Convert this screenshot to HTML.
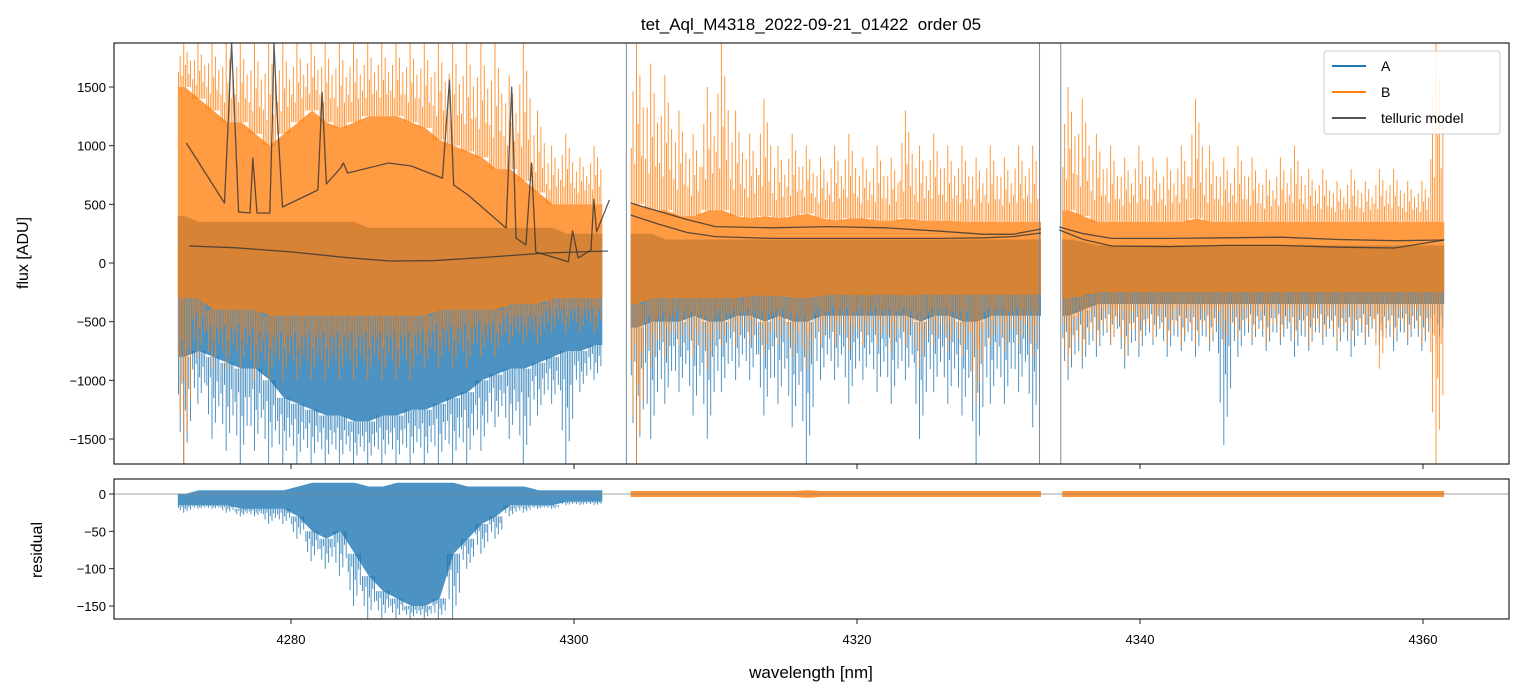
<!DOCTYPE html>
<html><head><meta charset="utf-8"><style>
body{margin:0;background:#fff;}
svg{display:block;font-family:"Liberation Sans","DejaVu Sans",sans-serif;}
</style></head><body>
<svg id="chart" width="1523" height="696" viewBox="0 0 1523 696" xmlns="http://www.w3.org/2000/svg">
<defs>
<clipPath id="ctop"><rect x="114" y="43" width="1395" height="421"/></clipPath>
<clipPath id="cbot"><rect x="114" y="479" width="1395" height="140"/></clipPath>
</defs>
<text x="811" y="30" font-size="17" text-anchor="middle" style="white-space:pre">tet_Aql_M4318_2022-09-21_01422  order 05</text>
<g id="topPanel" clip-path="url(#ctop)"></g>
<g id="botPanel" clip-path="url(#cbot)"></g>
<g id="axesG"></g>
<text transform="translate(28,253) rotate(-90)" font-size="16" text-anchor="middle">flux [ADU]</text>
<text transform="translate(42,550) rotate(-90)" font-size="16" text-anchor="middle">residual</text>
<text x="811" y="678" font-size="17" text-anchor="middle">wavelength [nm]</text>
<g id="legendG">
<rect x="1324" y="51" width="176" height="83" rx="3" fill="#fff" fill-opacity="0.85" stroke="#ccc"/>
<line x1="1332" y1="66" x2="1366" y2="66" stroke="#1f77b4" stroke-width="2"/>
<text x="1381" y="71" font-size="14">A</text>
<line x1="1332" y1="92" x2="1366" y2="92" stroke="#ff7f0e" stroke-width="2"/>
<text x="1381" y="97" font-size="14">B</text>
<line x1="1332" y1="118" x2="1366" y2="118" stroke="#555" stroke-width="2"/>
<text x="1381" y="123" font-size="14">telluric model</text>
</g>
</svg>
<script>
// ---- data ----
const seg1 = [4272.5,4273.5,4274.5,4275.5,4276.5,4277.5,4278.5,4279.5,4280.5,4281.5,4282.5,4283.5,4284.5,4285.5,4286.5,4287.5,4288.5,4289.5,4290.5,4291.5,4292.5,4293.5,4294.5,4295.5,4296.5,4297.5,4298.5,4299.5,4300.5,4301.5];
const seg2 = [4304.5,4305.5,4306.5,4307.5,4308.5,4309.5,4310.5,4311.5,4312.5,4313.5,4314.5,4315.5,4316.5,4317.5,4318.5,4319.5,4320.5,4321.5,4322.5,4323.5,4324.5,4325.5,4326.5,4327.5,4328.5,4329.5,4330.5,4331.5,4332.5];
const seg3 = [4335,4336,4337,4338,4339,4340,4341,4342,4343,4344,4345,4346,4347,4348,4349,4350,4351,4352,4353,4354,4355,4356,4357,4358,4359,4360,4361];
const bHi1 = [1500,1400,1300,1200,1200,1100,1000,1100,1200,1300,1200,1150,1200,1250,1250,1250,1200,1150,1050,1000,950,900,800,800,700,600,500,500,500,500];
const bLo1 = [-300,-300,-400,-400,-400,-400,-450,-450,-450,-450,-450,-450,-450,-450,-450,-450,-450,-450,-400,-400,-400,-400,-400,-350,-350,-350,-300,-300,-300,-300];
const bSHi1 = [1875,1875,1875,1875,1875,1875,1875,1875,1875,1875,1875,1875,1875,1875,1875,1875,1875,1875,1875,1875,1875,1875,1875,1600,1875,1300,1000,1100,900,1000];
const bSLo1 = [-1713,-800,-900,-900,-900,-1000,-1000,-1000,-1000,-1000,-1000,-1000,-1000,-1000,-1000,-1000,-1000,-900,-900,-900,-900,-800,-800,-700,-700,-700,-600,-600,-600,-600];
const aHi1 = [400,350,350,350,350,350,350,350,350,350,350,350,350,300,300,300,300,300,300,300,300,300,300,300,300,300,300,250,250,250];
const aLo1 = [-800,-750,-800,-850,-900,-900,-1000,-1150,-1200,-1250,-1300,-1300,-1350,-1350,-1300,-1300,-1250,-1250,-1200,-1150,-1100,-1000,-950,-900,-900,-850,-800,-750,-750,-700];
const aSLo1 = [-1713,-1200,-1500,-1600,-1713,-1600,-1713,-1713,-1713,-1713,-1713,-1713,-1713,-1713,-1713,-1713,-1713,-1713,-1713,-1713,-1713,-1600,-1400,-1500,-1713,-1300,-1200,-1713,-1100,-1000];
const bHi2 = [500,450,450,400,400,450,450,400,380,400,380,400,420,380,360,380,380,360,360,380,360,360,360,350,350,350,350,350,350];
const bLo2 = [-350,-300,-300,-300,-300,-300,-300,-300,-280,-280,-280,-300,-300,-280,-270,-270,-280,-270,-270,-280,-270,-270,-270,-270,-270,-270,-270,-270,-270];
const bSHi2 = [1875,1700,1600,1300,1100,1500,1875,1300,1100,1400,1000,1100,1000,900,1000,1100,900,1000,900,1300,1000,1100,1000,1000,900,1000,900,1000,1000];
const bSLo2 = [-1713,-900,-800,-700,-800,-900,-700,-700,-700,-800,-700,-800,-900,-700,-700,-750,-700,-700,-750,-700,-900,-700,-750,-800,-1200,-700,-750,-700,-800];
const aHi2 = [250,250,200,200,200,200,200,200,200,200,200,200,200,200,200,200,200,200,200,200,200,200,200,200,200,200,200,200,200];
const aLo2 = [-550,-500,-500,-500,-450,-500,-500,-450,-450,-500,-450,-500,-500,-450,-450,-450,-450,-450,-450,-450,-500,-450,-450,-500,-500,-450,-450,-450,-450];
const aSLo2 = [-1713,-1500,-1200,-1100,-1300,-1500,-1100,-1000,-1000,-1300,-1200,-1400,-1713,-1000,-1000,-1200,-1000,-1100,-1200,-1000,-1500,-1100,-1200,-1300,-1713,-1200,-1200,-1100,-1400];
const bHi3 = [450,400,350,350,350,350,350,350,350,380,350,350,350,350,350,350,350,350,350,350,350,350,350,350,350,350,350];
const bLo3 = [-300,-280,-250,-250,-250,-250,-250,-250,-250,-250,-250,-250,-250,-250,-250,-250,-250,-250,-250,-250,-250,-250,-250,-250,-250,-250,-250];
const bSHi3 = [1500,1400,1100,1000,900,1000,900,900,1000,1400,1000,900,1000,900,800,900,1000,800,800,700,800,700,800,800,700,700,1875];
const bSLo3 = [-900,-800,-700,-700,-800,-700,-650,-700,-700,-700,-700,-700,-650,-650,-700,-650,-650,-700,-650,-700,-650,-650,-900,-650,-650,-700,-1713];
const aHi3 = [200,180,150,150,150,150,150,150,150,150,150,150,150,150,150,150,150,150,150,150,150,150,150,150,150,150,150];
const aLo3 = [-450,-400,-350,-350,-350,-350,-350,-350,-350,-350,-350,-350,-350,-350,-350,-350,-350,-350,-350,-350,-350,-350,-350,-350,-350,-350,-350];
const aSLo3 = [-1000,-900,-800,-700,-900,-800,-700,-800,-750,-800,-750,-1550,-800,-700,-750,-700,-800,-750,-700,-750,-800,-700,-700,-750,-700,-750,-700];
const tel1W = [4272.6,4275.3,4275.6,4275.8,4276.0,4276.3,4277.1,4277.3,4277.6,4278.5,4278.7,4278.8,4279.0,4279.4,4281.9,4282.2,4282.5,4283.5,4283.7,4284.0,4286.9,4288.5,4290.7,4291.2,4291.5,4292.5,4295.2,4295.6,4295.9,4296.6,4297.0,4297.3,4298.5,4299.6,4299.9,4300.3,4301.2,4301.4,4301.6,4302.5];
const tel1V = [1023,511,1300,1875,1300,435,426,895,426,426,1300,1875,1300,477,622,1457,673,810,852,767,852,827,724,1560,665,580,298,1500,213,153,852,94,51,9,273,43,111,545,264,537];
const tel1bW = [4272.8,4276,4280,4284,4287,4290,4294,4298,4302.4];
const tel1bV = [145,130,95,45,17,20,50,85,102];
const tel2W = [4304,4306,4308,4310,4314,4318,4322,4326,4329,4331,4333];
const tel2V = [511,440,370,310,300,310,300,270,245,245,290];
const tel2bW = [4304,4306,4308,4310,4314,4318,4322,4326,4329,4331,4333];
const tel2bV = [409,330,260,225,210,210,210,210,215,225,256];
const tel3W = [4334.3,4336,4338,4342,4346,4350,4354,4358,4361.5];
const tel3V = [307,250,210,210,215,220,200,190,196];
const tel3bW = [4334.3,4336,4338,4342,4346,4350,4354,4358,4361.5];
const tel3bV = [281,200,145,140,150,150,135,128,196];
const resHi1 = [0,5,5,5,5,5,5,5,10,15,15,15,15,10,10,15,15,15,15,15,10,10,10,10,10,5,5,5,5,5];
const resLo1 = [-15,-15,-15,-15,-20,-20,-20,-20,-30,-50,-60,-50,-80,-110,-130,-140,-150,-150,-140,-80,-60,-40,-30,-15,-15,-15,-15,-10,-10,-10];
const resSLo1 = [-25,-20,-20,-25,-30,-30,-40,-40,-60,-90,-100,-110,-150,-167,-167,-167,-167,-167,-167,-167,-100,-80,-60,-30,-25,-20,-20,-15,-15,-15];
const resHi2 = [4,4,4,4,4,4,4,4,4,4,4,4,5,4,4,4,4,4,4,4,4,4,4,4,4,4,4,4,4];
const resLo2 = [-4,-4,-4,-4,-4,-4,-4,-4,-4,-4,-4,-4,-5,-4,-4,-4,-4,-4,-4,-4,-4,-4,-4,-4,-4,-4,-4,-4,-4];
const resHi3 = [4,4,4,4,4,4,4,4,4,4,4,4,4,4,4,4,4,4,4,4,4,4,4,4,4,4,4];
const resLo3 = [-4,-4,-4,-4,-4,-4,-4,-4,-4,-4,-4,-4,-4,-4,-4,-4,-4,-4,-4,-4,-4,-4,-4,-4,-4,-4,-4];
const xTicks = [4280,4300,4320,4340,4360];
const yTicksTop = [-1500,-1000,-500,0,500,1000,1500];
const yTicksBot = [-150,-100,-50,0];

// ---- axes functions ----
const X = w => 291 + (w - 4280) * 14.15;
const Y = v => 263 - v * 0.11733;
const R = v => 494 - v * 0.7467;
const NS = 'http://www.w3.org/2000/svg';
function mk(tag, parent, attrs){const e=document.createElementNS(NS,tag);for(const k in attrs)e.setAttribute(k,attrs[k]);parent.appendChild(e);return e;}
const topG = document.getElementById('topPanel');
const botG = document.getElementById('botPanel');
const axesG = document.getElementById('axesG');

// spike rendering pattern (style only)
const SPK_OFF = [-0.45,-0.33,-0.2,-0.08,0.04,0.16,0.28,0.4];
const SPK_FR  = [0.35,0.7,0.25,1,0.5,0.8,0.3,0.6];

function band(parent, xs, hi, lo, fy, color, op, name){
  const n = xs.length;
  let d = 'M'+X(xs[0]-0.5).toFixed(1)+','+fy(hi[0]).toFixed(1);
  xs.forEach((w,i)=>{d += 'L'+X(w).toFixed(1)+','+fy(hi[i]).toFixed(1);});
  d += 'L'+X(xs[n-1]+0.5).toFixed(1)+','+fy(hi[n-1]).toFixed(1);
  d += 'L'+X(xs[n-1]+0.5).toFixed(1)+','+fy(lo[n-1]).toFixed(1);
  for(let i=n-1;i>=0;i--){d += 'L'+X(xs[i]).toFixed(1)+','+fy(lo[i]).toFixed(1);}
  d += 'L'+X(xs[0]-0.5).toFixed(1)+','+fy(lo[0]).toFixed(1);
  const p = mk('path', parent, {d: d+'Z', fill: color, 'fill-opacity': op});
  
  
}
function spikes(parent, xs, from, to, fy, color, name){
  let d='';
  xs.forEach((w,i)=>{
    SPK_OFF.forEach((o,j)=>{const v = from[i] + (to[i]-from[i])*SPK_FR[j];
      d += 'M'+X(w+o).toFixed(1)+','+fy(from[i]).toFixed(1)+'L'+X(w+o).toFixed(1)+','+fy(v).toFixed(1);});
  });
  const p = mk('path', parent, {d, stroke: color, 'stroke-width': 1, 'stroke-opacity': 0.8, fill:'none'});
  
  
}
function line(parent, ws, vs, fy, name){
  const d = ws.map((w,i)=>(i?'L':'M')+X(w).toFixed(1)+','+fy(vs[i]).toFixed(1)).join('');
  const p = mk('path', parent, {d, stroke:'#333', 'stroke-width':1.3, 'stroke-opacity':0.8, fill:'none','stroke-linejoin':'round'});
  
  
}
const BLUE='#1f77b4', ORANGE='#ff7f0e';
[[seg1,aHi1,aLo1,aSLo1],[seg2,aHi2,aLo2,aSLo2],[seg3,aHi3,aLo3,aSLo3]].forEach(([s,h,l,sl],k)=>{
  band(topG,s,h,l,Y,BLUE,0.8,'series-a-band-'+(k+1));
  spikes(topG,s,l,sl,Y,BLUE,'series-a-spikes-'+(k+1));
});
[[seg1,bHi1,bLo1,bSHi1,bSLo1],[seg2,bHi2,bLo2,bSHi2,bSLo2],[seg3,bHi3,bLo3,bSHi3,bSLo3]].forEach(([s,h,l,sh,sl],k)=>{
  band(topG,s,h,l,Y,ORANGE,0.78,'series-b-band-'+(k+1));
  spikes(topG,s,h,sh,Y,ORANGE,'series-b-spikes-up-'+(k+1));
  spikes(topG,s,l,sl,Y,ORANGE,'series-b-spikes-down-'+(k+1));
});
[4303.7,4332.9,4334.4].forEach(w=>{
  const l = mk('line', topG, {x1:X(w),x2:X(w),y1:43,y2:464,stroke:'#7a8a99','stroke-width':1});
  
  
});
line(topG, tel1W, tel1V, Y, 'telluric-model-a-seg1');
line(topG, tel1bW, tel1bV, Y, 'telluric-model-b-seg1');
line(topG, tel2W, tel2V, Y, 'telluric-model-a-seg2');
line(topG, tel2bW, tel2bV, Y, 'telluric-model-b-seg2');
line(topG, tel3W, tel3V, Y, 'telluric-model-a-seg3');
line(topG, tel3bW, tel3bV, Y, 'telluric-model-b-seg3');
band(botG, seg1, resHi1, resLo1, R, BLUE, 0.8, 'residual-a-band');
spikes(botG, seg1, resLo1, resSLo1, R, BLUE, 'residual-a-spikes');
band(botG, seg2, resHi2, resLo2, R, ORANGE, 0.85, 'residual-b-band-2');
band(botG, seg3, resHi3, resLo3, R, ORANGE, 0.85, 'residual-b-band-3');
const zl = mk('line', botG, {x1:114,x2:1509,y1:R(0),y2:R(0),stroke:'#888','stroke-width':0.8});



const f1 = mk('rect', axesG, {x:114,y:43,width:1395,height:421,fill:'none',stroke:'#222','stroke-width':1.2});


const f2 = mk('rect', axesG, {x:114,y:479,width:1395,height:140,fill:'none',stroke:'#222','stroke-width':1.2});


xTicks.forEach(t=>{
  const a = mk('line', axesG, {x1:X(t),x2:X(t),y1:464,y2:469,stroke:'#222'});
  
  
  const b = mk('line', axesG, {x1:X(t),x2:X(t),y1:619,y2:624,stroke:'#222'});
  
  
  const tx = mk('text', axesG, {x:X(t),y:644,'font-size':13,'text-anchor':'middle'});
  
  
  tx.textContent = t;
});
yTicksTop.forEach(t=>{
  const a = mk('line', axesG, {x1:109,x2:114,y1:Y(t),y2:Y(t),stroke:'#222'});
  
  
  const tx = mk('text', axesG, {x:106,y:Y(t)+5,'font-size':13,'text-anchor':'end'});
  
  
  tx.textContent = t<0 ? '\u2212'+Math.abs(t) : t;
});
yTicksBot.forEach(t=>{
  const a = mk('line', axesG, {x1:109,x2:114,y1:R(t),y2:R(t),stroke:'#222'});
  
  
  const tx = mk('text', axesG, {x:106,y:R(t)+5,'font-size':13,'text-anchor':'end'});
  
  
  tx.textContent = t<0 ? '\u2212'+Math.abs(t) : t;
});
document.getElementById('chart').appendChild(document.getElementById('legendG'));
</script>
</body></html>
